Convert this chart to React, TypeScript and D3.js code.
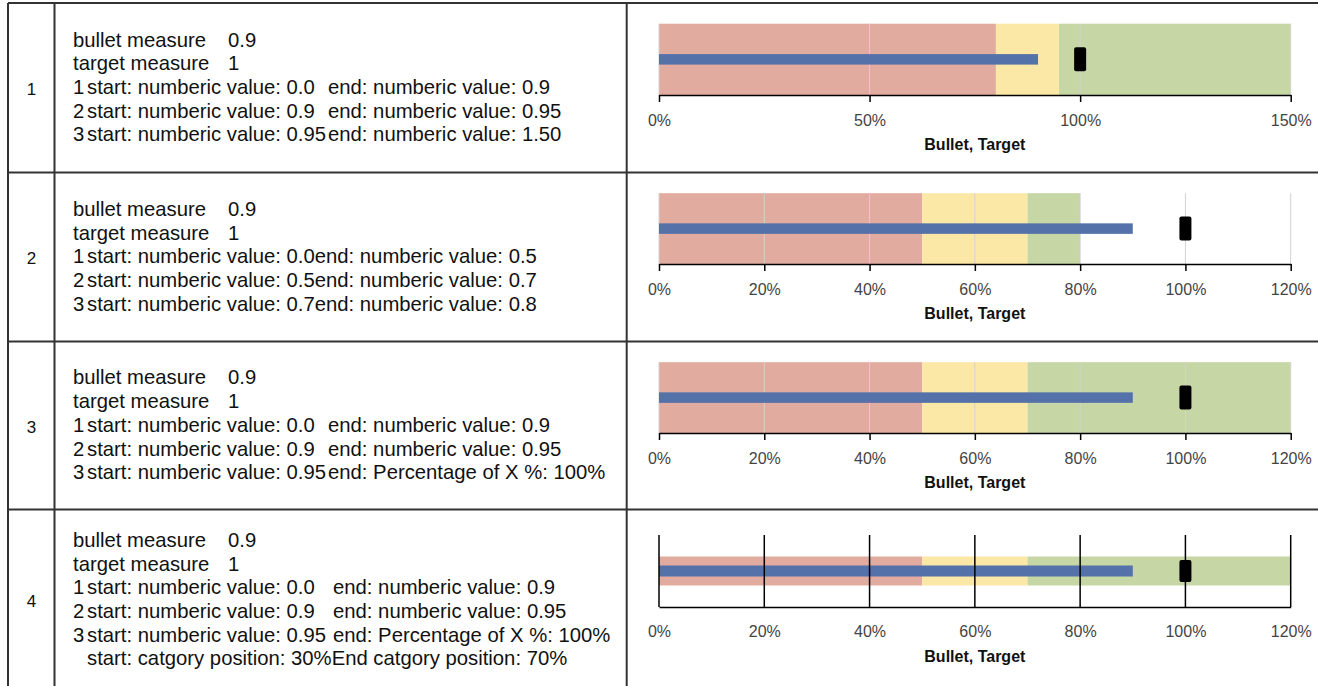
import React, { useEffect, useRef } from 'react';
import * as d3 from 'd3';

// ---- data ----
const rowIds = ['1', '2', '3', '4'];
const bulletValues = [0.9, 0.9, 0.9, 0.9];
const targetValues = [1, 1, 1, 1];
const rangeBreaks = [
  [0, 0.8, 0.95, 1.5],
  [0, 0.5, 0.7, 0.8],
  [0, 0.5, 0.7, 1.2],
  [0, 0.5, 0.7, 1.2],
];
const axisMax = [1.5, 1.2, 1.2, 1.2];
const tickSteps = [0.5, 0.2, 0.2, 0.2];
const axisTitle = 'Bullet, Target';

const measureLabels = ['bullet measure', 'target measure'];
const measureValues = ['0.9', '1'];

// [number, start part, end part]
const rangeText: string[][][] = [
  [
    ['1', 'start: numberic value: 0.0', 'end: numberic value: 0.9'],
    ['2', 'start: numberic value: 0.9', 'end: numberic value: 0.95'],
    ['3', 'start: numberic value: 0.95', 'end: numberic value: 1.50'],
  ],
  [
    ['1', 'start: numberic value: 0.0', 'end: numberic value: 0.5'],
    ['2', 'start: numberic value: 0.5', 'end: numberic value: 0.7'],
    ['3', 'start: numberic value: 0.7', 'end: numberic value: 0.8'],
  ],
  [
    ['1', 'start: numberic value: 0.0', 'end: numberic value: 0.9'],
    ['2', 'start: numberic value: 0.9', 'end: numberic value: 0.95'],
    ['3', 'start: numberic value: 0.95', 'end: Percentage of X %: 100%'],
  ],
  [
    ['1', 'start: numberic value: 0.0', 'end: numberic value: 0.9'],
    ['2', 'start: numberic value: 0.9', 'end: numberic value: 0.95'],
    ['3', 'start: numberic value: 0.95', 'end: Percentage of X %: 100%'],
    ['', 'start: catgory position: 30%', 'End catgory position: 70%'],
  ],
];

// ---- layout / style ----
const W = 1318;
const H = 686;
const FONT = "'Liberation Sans', Arial, sans-serif";
const rowEdges = [3, 172.5, 341.5, 509.5, 690];
const colEdges = [8, 54.5, 626.7];
const endTabX: (number | null)[][] = [
  [328, 328, 328],
  [null, null, null],
  [328, 328, 328],
  [333, 333, 333, null],
];
const rangeColors = ['#e2ab9f', '#fce8a6', '#c6d6a4'];
const bulletColor = '#5471a9';
const chartX0 = 659;
const chartX1 = 1290.7;
const LH = 23.7;

type ChartStyle = { top: number; axis: number; band: number; bullet: number; targetH: number; tick: number; pad: number; dark: boolean };
const chartStyles: ChartStyle[] = [
  { top: 20.7, axis: 92, band: 0, bullet: 10.5, targetH: 24, tick: 7, pad: 13, dark: false },
  { top: 20.7, axis: 91.5, band: 0, bullet: 10.5, targetH: 24, tick: 7, pad: 13, dark: false },
  { top: 20.7, axis: 91.5, band: 0, bullet: 10.5, targetH: 24, tick: 7, pad: 13, dark: false },
  { top: 25.5, axis: 97.5, band: 29, bullet: 11, targetH: 22, tick: 0, pad: 19, dark: true },
];

const Axis: React.FC<{ scale: d3.ScaleLinear<number, number>; y: number; ticks: number[]; size: number; pad: number }> = ({ scale, y, ticks, size, pad }) => {
  const ref = useRef<SVGGElement>(null);
  useEffect(() => {
    if (!ref.current) return;
    const g = d3.select(ref.current);
    g.selectAll('*').remove();
    g.call(
      d3.axisBottom(scale)
        .tickValues(ticks)
        .tickSize(size)
        .tickSizeOuter(0)
        .tickPadding(pad)
        .tickFormat(d3.format('.0%') as any)
    );
    g.attr('font-family', FONT).attr('font-size', 16);
    g.select('.domain').attr('stroke', '#000').attr('stroke-width', 1.5);
    g.selectAll('.tick line').attr('stroke', '#000').attr('stroke-width', 1.5);
    g.selectAll('.tick text').attr('fill', '#444');
  }, [scale, y, ticks, size, pad]);
  return <g ref={ref} transform={`translate(0,${y})`} />;
};

const Bullet: React.FC<{ i: number; rowTop: number }> = ({ i, rowTop }) => {
  const st = chartStyles[i];
  const x = d3.scaleLinear().domain([0, axisMax[i]]).range([chartX0, chartX1]);
  const ticks = d3.range(0, axisMax[i] + 1e-9, tickSteps[i]).map((v) => +v.toFixed(4));
  const top = rowTop + st.top;
  const axisY = rowTop + st.axis;
  const mid = (top + axisY) / 2;
  const bandTop = st.band ? mid - st.band / 2 : top;
  const bandH = st.band ? st.band : axisY - top;
  const breaks = rangeBreaks[i];
  const grid = ticks.map((t) => (
    <line key={t} x1={x(t)} x2={x(t)} y1={top} y2={axisY}
      stroke={st.dark ? '#000' : '#d2d2d2'} strokeWidth={st.dark ? 1.5 : 1} />
  ));
  return (
    <g>
      {breaks.slice(1).map((b, k) => (
        <rect key={k} x={x(breaks[k])} width={x(b) - x(breaks[k])} y={bandTop} height={bandH} fill={rangeColors[k]} />
      ))}
      {!st.dark && grid}
      <rect x={x(0)} width={x(bulletValues[i]) - x(0)} y={mid - st.bullet / 2} height={st.bullet} fill={bulletColor} />
      <rect x={x(targetValues[i]) - 6} width={12} y={mid - st.targetH / 2} height={st.targetH} rx={2} fill="#000" />
      {st.dark && grid}
      <Axis scale={x} y={axisY} ticks={ticks} size={st.tick} pad={st.pad} />
      <text x={(chartX0 + chartX1) / 2} y={axisY + 55} textAnchor="middle" fontFamily={FONT} fontSize={16} fontWeight="bold" fill="#111">
        {axisTitle}
      </text>
    </g>
  );
};

const App: React.FC = () => {
  return (
    <svg width={W} height={H} style={{ position: 'absolute', left: 0, top: 0, display: 'block', background: '#fff' }}>
      {/* table grid */}
      <g stroke="#333" strokeWidth={2}>
        {rowEdges.map((y, k) => (
          <line key={'h' + k} x1={colEdges[0]} x2={W} y1={y} y2={y} />
        ))}
        {colEdges.map((cx, k) => (
          <line key={'v' + k} x1={cx} x2={cx} y1={rowEdges[0]} y2={rowEdges[rowEdges.length - 1]} />
        ))}
      </g>

      {rowIds.map((id, i) => {
        const top = rowEdges[i];
        const center = (top + rowEdges[i + 1]) / 2;
        const nLines = 2 + rangeText[i].length;
        const firstBase = center + 6.3 - ((nLines - 1) * LH) / 2;
        return (
          <g key={id}>
            <text x={31.5} y={center + 7.3} textAnchor="middle" fontFamily={FONT} fontSize={17} fill="#111">{id}</text>
            <g fontFamily={FONT} fontSize={20.3} fill="#111">
              {measureLabels.map((lab, k) => (
                <text key={lab} y={firstBase + k * LH}>
                  <tspan x={73}>{lab}</tspan>
                  <tspan x={228}>{measureValues[k]}</tspan>
                </text>
              ))}
              {rangeText[i].map((ln, k) => {
                const tab = endTabX[i][k];
                return (
                  <text key={k} y={firstBase + (k + 2) * LH}>
                    {ln[0] && <tspan x={73}>{ln[0]}</tspan>}
                    <tspan x={87}>{ln[1]}</tspan>
                    {tab != null ? <tspan x={tab}>{ln[2]}</tspan> : <tspan>{ln[2]}</tspan>}
                  </text>
                );
              })}
            </g>
            <Bullet i={i} rowTop={top} />
          </g>
        );
      })}
    </svg>
  );
};

export default App;
